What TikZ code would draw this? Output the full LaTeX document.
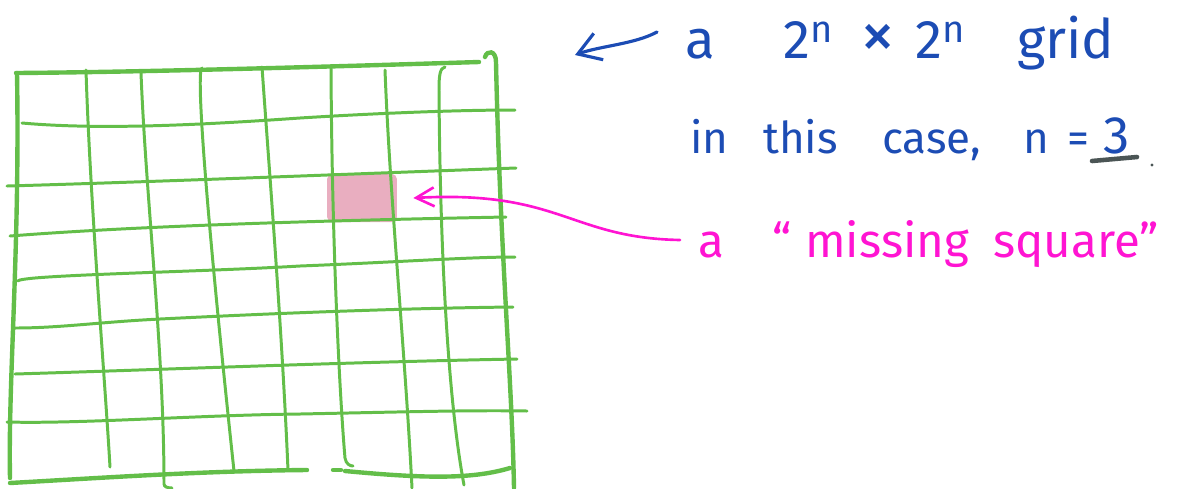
\documentclass[tikz,border=0pt]{standalone}
\usepackage{fontspec}
\setmainfont{Fira Sans}
\usetikzlibrary{arrows.meta}
\definecolor{gridgreen}{RGB}{99,190,73}
\definecolor{inkblue}{RGB}{28,76,180}
\definecolor{inkpink}{RGB}{255,20,210}
\definecolor{blobpink}{RGB}{233,174,192}
\definecolor{inkgray}{RGB}{75,85,85}
\begin{document}
\begin{tikzpicture}[x=0.02cm,y=-0.02cm,
  gridline/.style={gridgreen,line width=1.7pt,line cap=round},
  border/.style={gridgreen,line width=2.5pt,line cap=round},
  blob/.style={fill=blobpink,rounded corners=3pt,minimum width=1.4cm,minimum height=0.96cm,inner sep=0pt},
  bluetext/.style={text=inkblue,anchor=base west,inner sep=0pt},
  pinktext/.style={text=inkpink,anchor=base west,inner sep=0pt},
  bluearrow/.style={inkblue,line width=1.8pt,line cap=round,-{Straight Barb[length=4.4mm,width=5.6mm]}},
  pinkarrow/.style={inkpink,line width=1.5pt,line cap=round,-{Straight Barb[length=3.6mm,width=3.8mm]}}]
\useasboundingbox (0,0) rectangle (1187,488);
% the missing square, under the lines
\node[blob] (missing) at (362,198) {};
% frame
\draw[border] (17,73) .. controls (20,250) and (8,380) .. (10,478);
\draw[border] (485,57) .. controls (487,50) and (496,50) .. (496,62) .. controls (500,250) and (512,380) .. (514,488);
\draw[border] (16,73) .. controls (150,72) and (350,66) .. (479,62);
\draw[border] (10,483) .. controls (100,478) and (200,471) .. (307,470);
\draw[border] (333,470) -- (341,470);
\draw[border] (345,471) .. controls (420,478) and (470,480) .. (510,468);
% columns
\draw[gridline] (86,70) .. controls (90,200) and (105,380) .. (110,467);
\draw[gridline] (141,73) .. controls (146,200) and (164,350) .. (164,484) .. controls (164,487) and (168,488) .. (172,488);
\draw[gridline] (202,68) .. controls (196,70) and (205,200) .. (234,471);
\draw[gridline] (262,67) .. controls (270,180) and (282,330) .. (288,470);
\draw[gridline] (331,68) .. controls (332,250) and (340,400) .. (345,458) .. controls (346,464) and (350,466) .. (353,466);
\draw[gridline] (385,70) .. controls (390,200) and (405,350) .. (412,488);
\draw[gridline] (445,67) .. controls (440,68) and (439,75) .. (439,90) .. controls (440,250) and (448,400) .. (464,485);
% rows
\draw[gridline] (22,123) .. controls (100,130) and (200,125) .. (300,118) .. controls (380,113) and (460,110) .. (515,110);
\draw[gridline] (7,186) .. controls (150,182) and (350,174) .. (516,168);
\draw[gridline] (10,236) .. controls (150,225) and (350,220) .. (506,217);
\draw[gridline] (18,281) .. controls (20,275) and (200,272) .. (300,266) .. controls (400,262) and (470,257) .. (515,257);
\draw[gridline] (15,328) .. controls (60,328) and (100,322) .. (160,319) .. controls (300,312) and (420,308) .. (513,307);
\draw[gridline] (15,374) .. controls (150,370) and (350,362) .. (517,359);
\draw[gridline] (7,422) .. controls (80,424) and (200,415) .. (300,414) .. controls (400,412) and (470,410) .. (527,411);
% labels
\node[bluetext,font=\fontsize{31}{34}\selectfont] (gridlab) at (685,58)
  {\makebox[1.96cm][l]{a}\makebox[1.54cm][l]{2\textsuperscript{n}}\makebox[1.1cm][l]{\fontsize{40}{40}\selectfont ×}\makebox[2.04cm][l]{2\textsuperscript{n}}grid};
\node[bluetext,font=\fontsize{25}{28}\selectfont] (caselab) at (690,153)
  {\makebox[1.46cm][l]{in}\makebox[2.38cm][l]{this}\makebox[2.82cm][l]{case,}\makebox[0.88cm][l]{n}\makebox[0.72cm][l]{=}{\fontsize{30}{32}\selectfont 3}};
\node[pinktext,font=\fontsize{27}{30}\selectfont] (misslab) at (698,257)
  {\makebox[1.48cm][l]{a}\makebox[0.66cm][l]{“}\makebox[3.76cm][l]{missing}square”};
% arrows
\coordinate (gridtail) at (657,32);
\coordinate (gridtip) at (575,55);
\coordinate (misstail) at (680,240);
\draw[bluearrow] (gridtail) .. controls (635,44) and (600,46) .. (gridtip);
\draw[pinkarrow] (misstail) .. controls (570,238) and (560,190) .. ([xshift=0.32cm]missing.east);
\draw[inkgray,line width=2.6pt,line cap=round] (1092,161) -- (1137,157);
\fill[inkgray] (1152,165) circle (1.6);
\end{tikzpicture}
\end{document}
